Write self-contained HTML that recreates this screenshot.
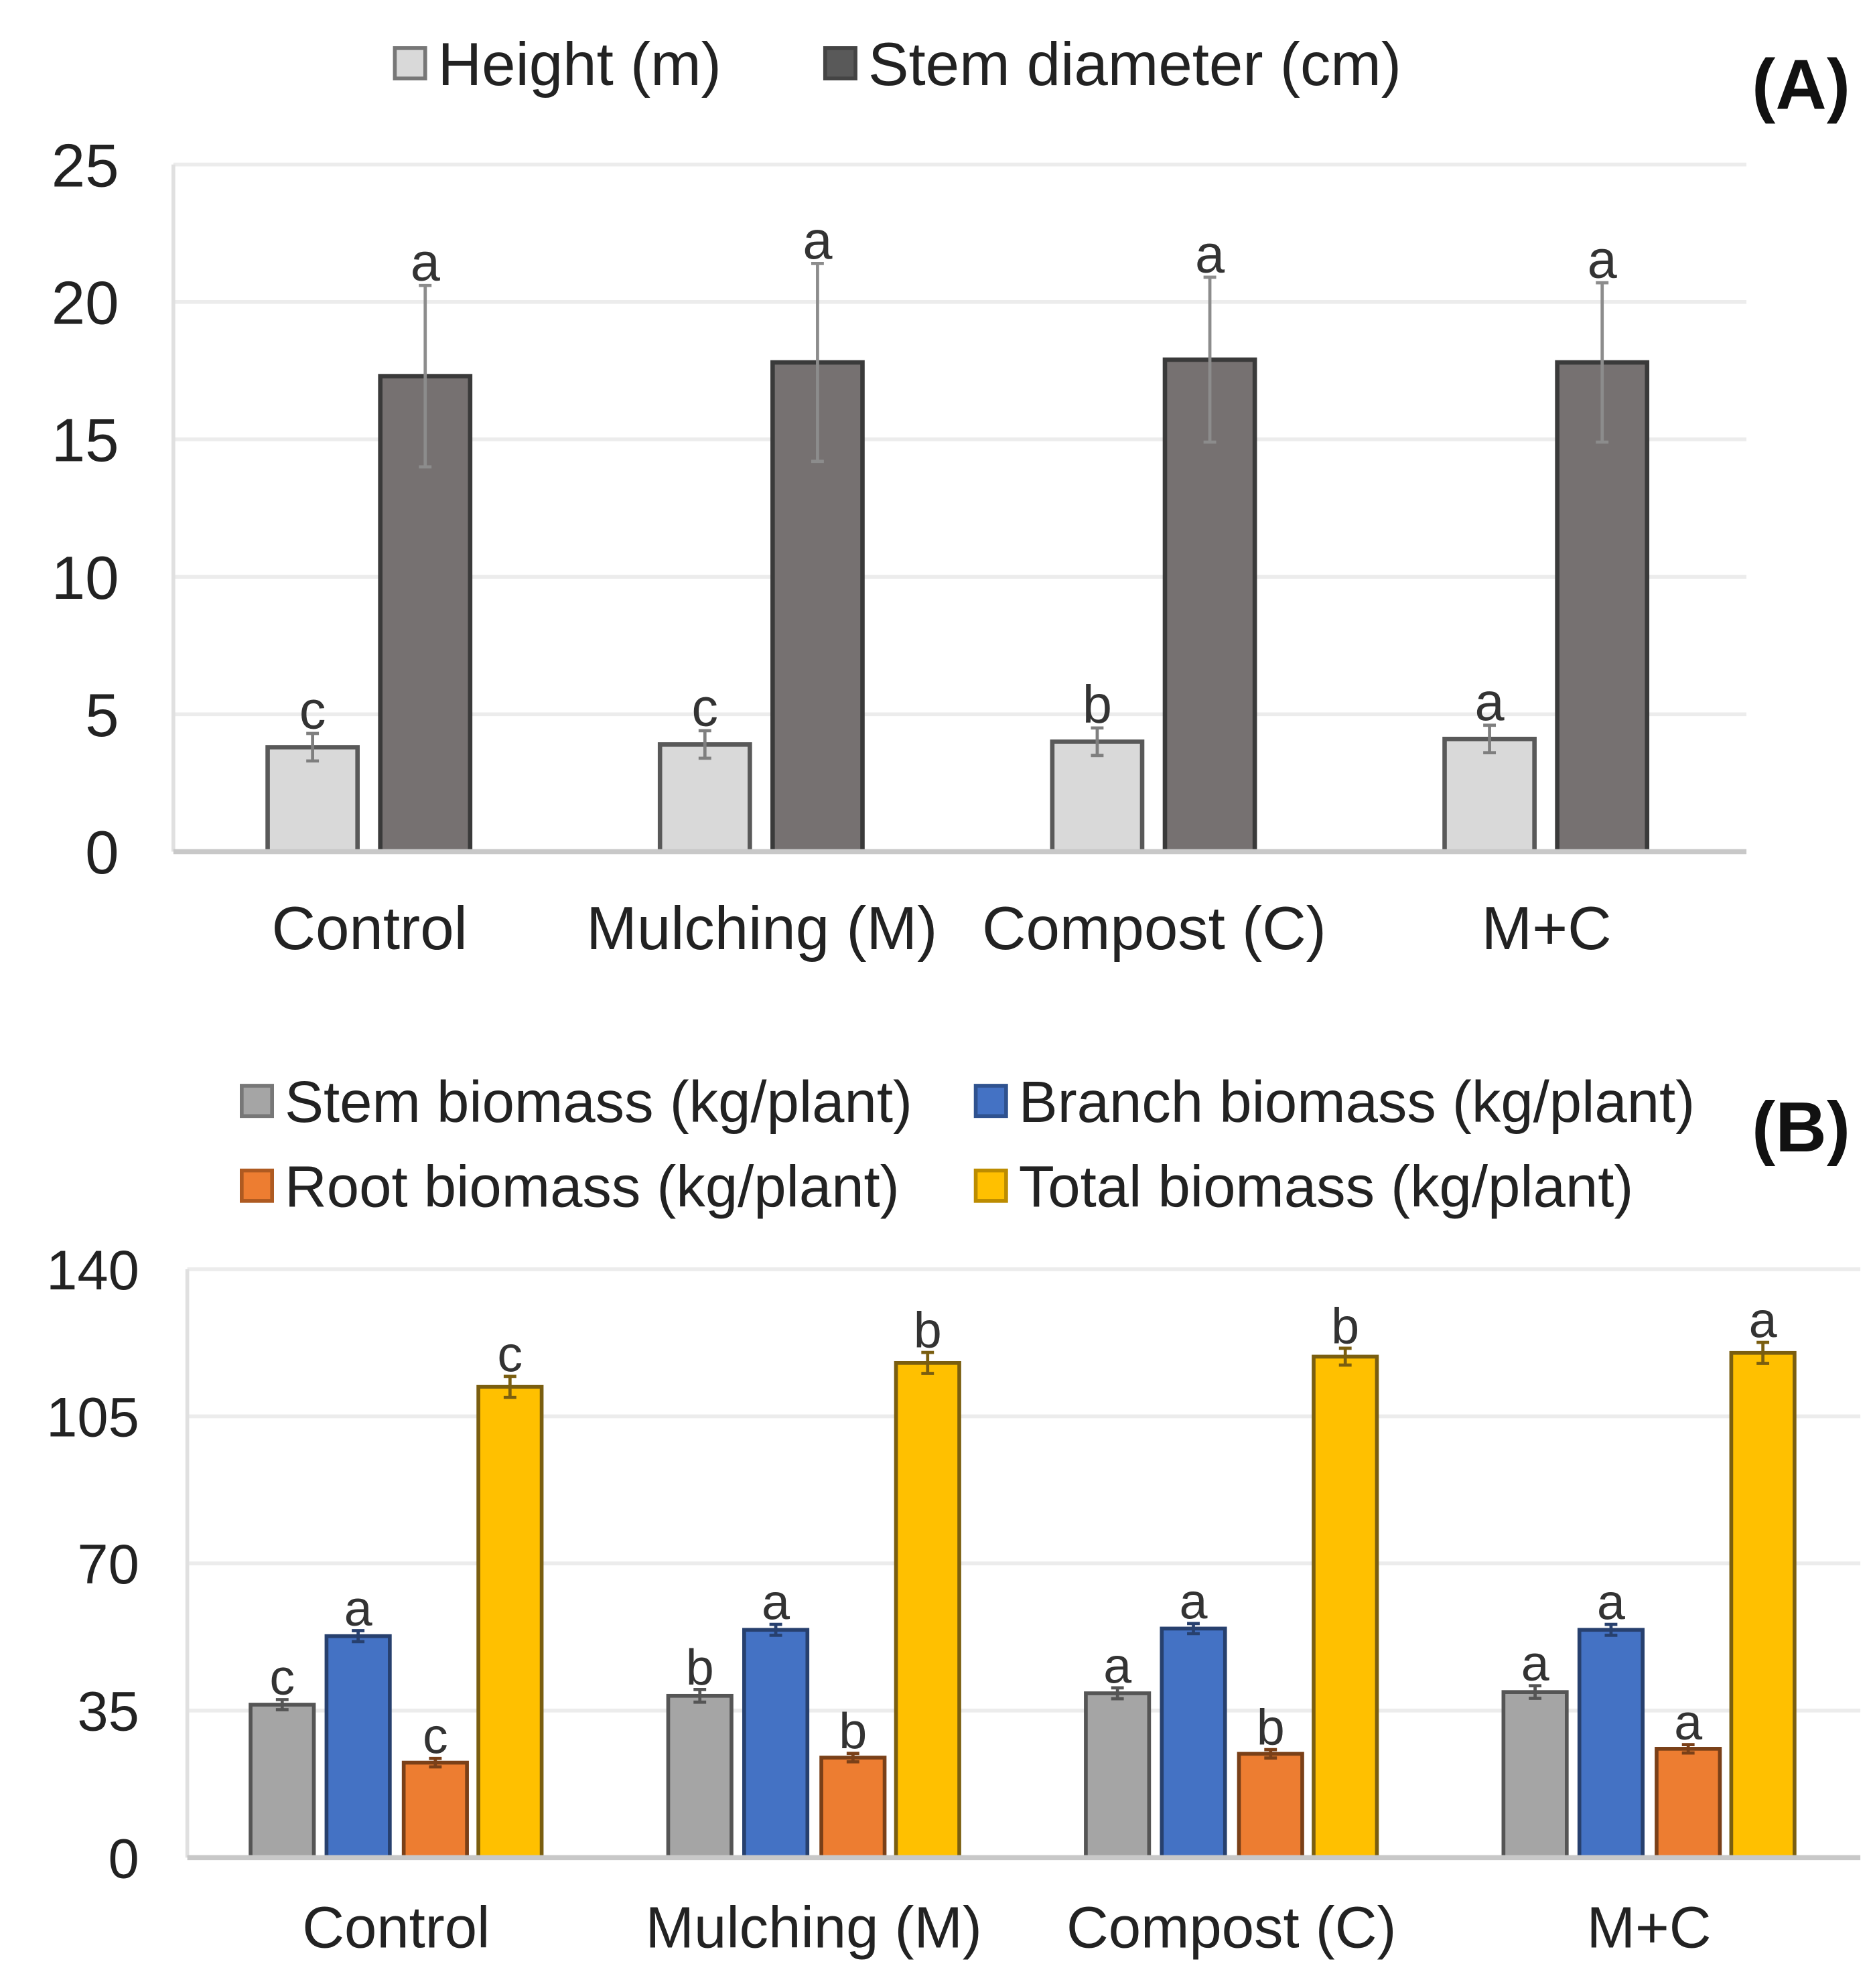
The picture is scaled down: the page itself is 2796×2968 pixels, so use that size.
<!DOCTYPE html>
<html><head><meta charset="utf-8"><style>
html,body{margin:0;padding:0;background:#fff;}
svg{display:block;font-family:"Liberation Sans",Arial,sans-serif;}
</style></head><body>
<svg id="chart" width="2796" height="2968" viewBox="0 0 1480 1571" xmlns="http://www.w3.org/2000/svg">
<g id="panelA"></g>
<g id="panelB"></g>
</svg>
<script>
const categories = ["Control","Mulching (M)","Compost (C)","M+C"];
const heightVals = [3.8, 3.9, 4.0, 4.1];
const heightErr = [0.5, 0.5, 0.5, 0.5];
const heightLetters = ["c","c","b","a"];
const stemDiamVals = [17.3, 17.8, 17.9, 17.8];
const stemDiamErr = [3.3, 3.6, 3.0, 2.9];
const stemDiamLetters = ["a","a","a","a"];
const ticksA = [0,5,10,15,20,25];

const stemBio = [36.4, 38.5, 39.1, 39.4];
const stemBioErr = [1.2, 1.5, 1.3, 1.5];
const stemBioLetters = ["c","b","a","a"];
const branchBio = [52.7, 54.2, 54.5, 54.2];
const branchBioErr = [1.3, 1.3, 1.2, 1.3];
const branchBioLetters = ["a","a","a","a"];
const rootBio = [22.6, 23.8, 24.7, 25.9];
const rootBioErr = [1.0, 1.0, 1.0, 1.0];
const rootBioLetters = ["c","b","b","a"];
const totalBio = [112, 117.7, 119.2, 120.1];
const totalBioErr = [2.5, 2.5, 2.0, 2.5];
const totalBioLetters = ["c","b","b","a"];
const ticksB = [0,35,70,105,140];

const NS="http://www.w3.org/2000/svg";
function mk(parent,tag,attrs,text){const e=document.createElementNS(NS,tag);for(const k in attrs)e.setAttribute(k,attrs[k]);if(text!==undefined)e.textContent=text;parent.appendChild(e);return e;}

function drawPanel(g,o){
  const y=v=>o.y0-(v-o.vmin)/(o.vmax-o.vmin)*(o.y0-o.y1);
  const x=i=>o.cx0+i*o.step;
  o.ticks.forEach(t=>{
    if(t>0){const l=mk(g,'line',{x1:o.xl,x2:o.xr,y1:y(t),y2:y(t),stroke:'#ececec','stroke-width':3});
      
      }
    const tx=mk(g,'text',{x:o.tickX,y:y(t)+o.tfs*0.36,'text-anchor':'end','font-size':o.tfs,fill:'#222'},String(t));
    
    
  });
  const ya=mk(g,'line',{x1:o.xl,x2:o.xl,y1:o.y1,y2:o.y0,stroke:'#e0e0e0','stroke-width':3});
  
  
  o.series.forEach((s,si)=>{
    s.vals.forEach((v,i)=>{
      const cx=x(i)+o.offsets[si], top=y(v);
      const r=mk(g,'rect',{x:cx-o.bw/2,y:top,width:o.bw,height:o.y0-top,fill:s.fill,stroke:s.stroke,'stroke-width':o.sw});
      
      
      const e=s.err[i];
      const el=mk(g,'path',{d:`M${cx},${y(v-e)}V${y(v+e)}M${cx-5},${y(v+e)}H${cx+5}M${cx-5},${y(v-e)}H${cx+5}`,stroke:s.errc,'stroke-width':2.5,fill:'none'});
      
      
      const lt=mk(g,'text',{x:cx,y:y(v+e)-4,'text-anchor':'middle','font-size':o.lfs,fill:'#333'},s.letters[i]);
      
      
    });
  });
  const xa=mk(g,'line',{x1:o.xl,x2:o.xr,y1:o.y0,y2:o.y0,stroke:'#c8c8c8','stroke-width':4});
  
  
  categories.forEach((c,i)=>{
    const t=mk(g,'text',{x:x(i),y:o.xlabY,'text-anchor':'middle','font-size':o.xfs,fill:'#222'},c);
    
    
  });
  o.legend.forEach(L=>{
    const r=mk(g,'rect',{x:L.x,y:L.y-L.s/2,width:L.s,height:L.s,fill:L.fill,stroke:L.stroke,'stroke-width':3});
    
    
    const t=mk(g,'text',{x:L.x+L.s+10,y:L.y+o.legfs*0.36,'font-size':o.legfs,fill:'#222'},L.text);
    
    
  });
  const pl=mk(g,'text',{x:1462,y:o.panelY,'text-anchor':'end','font-size':56,'font-weight':'bold',fill:'#111'},o.panel);
  
  
}

drawPanel(document.getElementById('panelA'),{
  y0:673,y1:130,vmin:0,vmax:25,xl:137,xr:1380,cx0:292,step:310,ticks:ticksA,tickX:94,tfs:48,
  offsets:[-45,44],bw:71,sw:3.5,lfs:42,xlabY:750,xfs:48,legfs:48,panel:'(A)',panelY:86,
  series:[
    {key:'height',vals:heightVals,err:heightErr,letters:heightLetters,fill:'#d9d9d9',stroke:'#595959',errc:'#7f7f7f'},
    {key:'stem-diameter',vals:stemDiamVals,err:stemDiamErr,letters:stemDiamLetters,fill:'#767171',stroke:'#3a3a3a',errc:'#8c8c8c'}
  ],
  legend:[{x:312,y:50,s:24,fill:'#d9d9d9',stroke:'#777',text:'Height (m)'},{x:652,y:50,s:24,fill:'#595959',stroke:'#444',text:'Stem diameter (cm)'}]
});
drawPanel(document.getElementById('panelB'),{
  y0:1468,y1:1003,vmin:0,vmax:140,xl:148,xr:1470,cx0:313,step:330,ticks:ticksB,tickX:110,tfs:44,
  offsets:[-90,-30,31,90],bw:50,sw:3,lfs:40,xlabY:1539,xfs:46,legfs:46,panel:'(B)',panelY:910,
  series:[
    {key:'stem-biomass',vals:stemBio,err:stemBioErr,letters:stemBioLetters,fill:'#a5a5a5',stroke:'#555',errc:'#555'},
    {key:'branch-biomass',vals:branchBio,err:branchBioErr,letters:branchBioLetters,fill:'#4472c4',stroke:'#27406e',errc:'#27406e'},
    {key:'root-biomass',vals:rootBio,err:rootBioErr,letters:rootBioLetters,fill:'#ed7d31',stroke:'#7a4018',errc:'#7a4018'},
    {key:'total-biomass',vals:totalBio,err:totalBioErr,letters:totalBioLetters,fill:'#ffc000',stroke:'#7a5e10',errc:'#7a5e10'}
  ],
  legend:[
    {x:191,y:870,s:24,fill:'#a5a5a5',stroke:'#777',text:'Stem biomass (kg/plant)'},
    {x:771,y:870,s:24,fill:'#4472c4',stroke:'#2f528f',text:'Branch biomass (kg/plant)'},
    {x:191,y:937,s:24,fill:'#ed7d31',stroke:'#ae5a21',text:'Root biomass (kg/plant)'},
    {x:771,y:937,s:24,fill:'#ffc000',stroke:'#bc8c00',text:'Total biomass (kg/plant)'}
  ]
});
</script>
</body></html>
